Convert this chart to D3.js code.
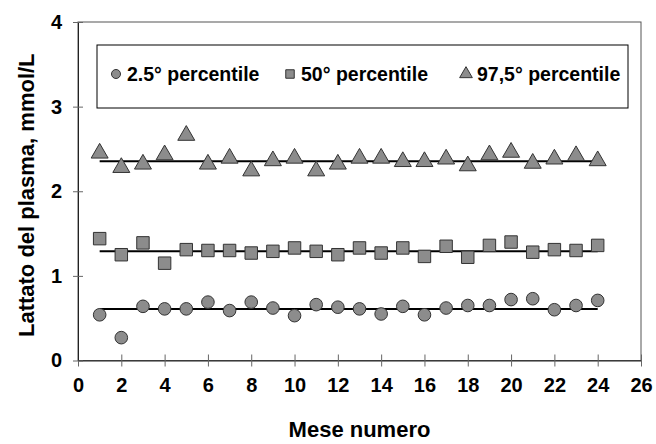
<!DOCTYPE html>
<html>
<head>
<meta charset="utf-8">
<script src="https://cdn.jsdelivr.net/npm/d3@7"></script>
<style>
  body { margin: 0; background: #fff; }
  text { font-family: "Liberation Sans", Arial, sans-serif; font-weight: bold; fill: #000; }
</style>
</head>
<body>
<div class="lattato-chart"></div>
<script>
// month numbers
const months = d3.range(1, 25);
const xTicks = d3.range(0, 27, 2);
const yTicks = [0, 1, 2, 3, 4];

// series
const p025 = [0.54, 0.27, 0.64, 0.61, 0.61, 0.69, 0.59, 0.69, 0.62, 0.53, 0.66, 0.63,
              0.61, 0.55, 0.64, 0.54, 0.62, 0.65, 0.65, 0.72, 0.73, 0.60, 0.65, 0.71];
const p50 = [1.44, 1.25, 1.39, 1.15, 1.31, 1.30, 1.30, 1.27, 1.29, 1.33, 1.29, 1.25,
             1.33, 1.27, 1.33, 1.23, 1.35, 1.22, 1.36, 1.40, 1.28, 1.31, 1.30, 1.36];
const p975 = [2.45, 2.28, 2.32, 2.43, 2.66, 2.32, 2.39, 2.24, 2.36, 2.39, 2.24, 2.32,
              2.39, 2.39, 2.35, 2.35, 2.38, 2.30, 2.43, 2.46, 2.33, 2.38, 2.42, 2.36];
// flat trend lines
const trendValues = [0.61, 1.29, 2.355];

const seriesNames = ["2.5° percentile", "50° percentile", "97,5° percentile"];
const seriesShapes = [d3.symbolCircle, d3.symbolSquare, d3.symbolTriangle];
const seriesData = [p025, p50, p975];

class LattatoChart {
    constructor(selector) {
        this.width = 656;
        this.height = 444;
        this.margin = {top: 22, right: 15, bottom: 83.5, left: 78};
        this.innerW = this.width - this.margin.left - this.margin.right;
        this.innerH = this.height - this.margin.top - this.margin.bottom;

        this.svg = d3.select(selector)
            .append("svg")
            .attr("width", this.width)
            .attr("height", this.height);

        this.g = this.svg.append("g")
            .attr("transform", `translate(${this.margin.left}, ${this.margin.top})`);

        this.x = d3.scaleLinear().domain([0, 26]).range([0, this.innerW]);
        this.y = d3.scaleLinear().domain([0, 4]).range([this.innerH, 0]);

        this.initChart();
    }

    initChart() {
        const g = this.g;

        // frame
        g.append("rect")
            .attr("width", this.innerW)
            .attr("height", this.innerH)
            .attr("fill", "none")
            .attr("stroke", "#555")
            .attr("stroke-width", 1);

        const xAxis = g.append("g")
            .attr("transform", `translate(0, ${this.innerH})`)
            .call(d3.axisBottom(this.x).tickValues(xTicks).tickSizeInner(6).tickSizeOuter(0).tickPadding(11));
        xAxis.selectAll(".tick line").attr("y1", -6).attr("stroke", "#666");
        xAxis.select(".domain").attr("stroke", "#222");

        const yAxis = g.append("g")
            .call(d3.axisLeft(this.y).tickValues(yTicks).tickFormat(d3.format("d"))
                .tickSizeInner(5).tickSizeOuter(0).tickPadding(11));
        yAxis.selectAll(".tick line").attr("x1", 5).attr("stroke", "#666");
        yAxis.select(".domain").attr("stroke", "#222");

        g.selectAll(".tick text")
            .style("font-size", "20px")
            .style("font-family", "'Liberation Sans', Arial, sans-serif")
            .style("font-weight", "bold");

        // trend lines
        g.selectAll(".trend")
            .data(trendValues)
            .enter()
            .append("line")
            .attr("class", "trend")
            .attr("x1", this.x(months[0]))
            .attr("x2", this.x(months[months.length - 1]))
            .attr("y1", d => this.y(d))
            .attr("y2", d => this.y(d))
            .attr("stroke", "#000")
            .attr("stroke-width", 2);

        // markers
        const sizes = [125, 155, 125];
        seriesData.forEach((vals, s) => {
            g.append("g")
                .selectAll("path")
                .data(vals)
                .enter()
                .append("path")
                .attr("d", d3.symbol().type(seriesShapes[s]).size(sizes[s]))
                .attr("transform", (d, i) => `translate(${this.x(months[i])}, ${this.y(d)})`)
                .attr("fill", "#8c8c8c")
                .attr("stroke", "#333")
                .attr("stroke-width", 1);
        });

        // legend
        const legend = this.svg.append("g")
            .attr("transform", "translate(97, 45)");
        legend.append("rect")
            .attr("width", 531)
            .attr("height", 63)
            .attr("fill", "#fff")
            .attr("stroke", "#000")
            .attr("stroke-width", 1);
        const legendX = [19, 193, 369];
        const legendSizes = [64, 72, 70];
        seriesNames.forEach((name, i) => {
            legend.append("path")
                .attr("d", d3.symbol().type(seriesShapes[i]).size(legendSizes[i]))
                .attr("transform", `translate(${legendX[i]}, 29)`)
                .attr("fill", "#8c8c8c")
                .attr("stroke", "#333");
            legend.append("text")
                .attr("x", legendX[i] + 11)
                .attr("y", 29)
                .attr("dy", "0.35em")
                .style("font-size", "19.5px")
                .text(name);
        });

        // axis titles
        this.svg.append("text")
            .attr("x", this.margin.left + this.innerW / 2)
            .attr("y", 437)
            .attr("text-anchor", "middle")
            .style("font-size", "22px")
            .text("Mese numero");

        this.svg.append("text")
            .attr("transform", `translate(34, ${this.margin.top + this.innerH / 2 + 4}) rotate(-90)`)
            .attr("text-anchor", "middle")
            .style("font-size", "22px")
            .text("Lattato del plasma, mmol/L");
    }
}

new LattatoChart(".lattato-chart");
</script>
</body>
</html>
